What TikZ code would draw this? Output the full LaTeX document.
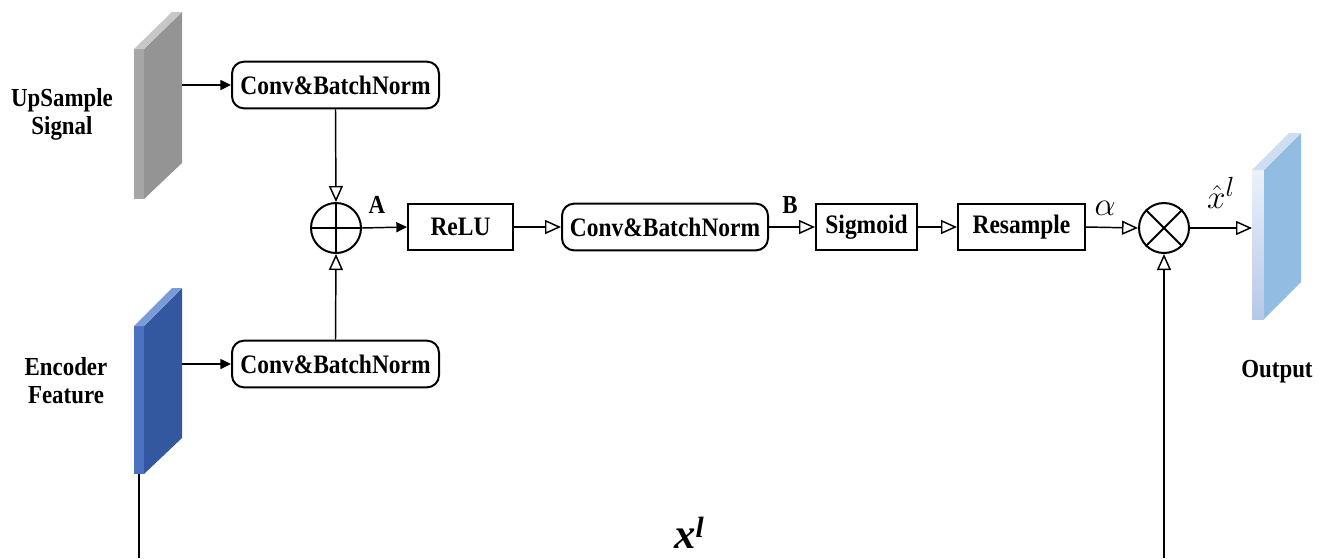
\documentclass[tikz,border=0pt]{standalone}
\usepackage{fontspec}
\setmainfont{Liberation Serif}
\newfontfamily\bxfont[FakeStretch=0.88]{Liberation Serif}
\usetikzlibrary{arrows.meta}
\begin{document}
\begin{tikzpicture}[x=0.75pt,y=-0.75pt,
  lbl/.style={font=\bxfont\bfseries\fontsize{19.5}{21}\selectfont,align=center,inner sep=0pt},
  box/.style={draw,line width=1.5pt,minimum height=35pt,inner sep=0pt,font=\bxfont\bfseries\fontsize{20}{20}\selectfont},
  rbox/.style={box,rounded corners=9pt},
  op/.style={draw,circle,line width=1.5pt,minimum size=37.5pt,inner sep=0pt},
  fa/.style={-{Triangle[length=8pt,width=7.5pt]},line width=1.1pt},
  oa/.style={-{Triangle[open,length=12pt,width=10.5pt,fill=white]},line width=1.1pt},
  pl/.style={line width=1.1pt}]
\useasboundingbox (0,0) rectangle (1327,558);
% slabs
\fill[black!35] (134,49) -- (144,49) -- (144,199) -- (134,199) -- cycle;
\fill[black!42] (144,49) -- (182,12) -- (182,163) -- (144,199) -- cycle;
\fill[black!22] (134,49) -- (172,12) -- (182,12) -- (144,49) -- cycle;
\fill[color={rgb,255:red,74;green,114;blue,192}] (134,326) -- (144,326) -- (144,474) -- (134,474) -- cycle;
\fill[color={rgb,255:red,52;green,88;blue,160}] (144,326) -- (182,288) -- (182,438) -- (144,474) -- cycle;
\fill[color={rgb,255:red,122;green,154;blue,216}] (134,326) -- (172,288) -- (182,288) -- (144,326) -- cycle;
\shade[top color={rgb,255:red,236;green,241;blue,250},bottom color={rgb,255:red,182;green,200;blue,232}] (1252,170) -- (1264,170) -- (1264,319) -- (1252,319) -- cycle;
\fill[color={rgb,255:red,146;green,188;blue,226}] (1264,170) -- (1301,133) -- (1301,282) -- (1264,319) -- cycle;
\fill[color={rgb,255:red,205;green,222;blue,242}] (1252,170) -- (1289,133) -- (1301,133) -- (1264,170) -- cycle;
\coordinate (upR) at (182,85);
\coordinate (encR) at (182,364);
\coordinate (encB) at (139,474);
\coordinate (bot1) at (139,558);
\coordinate (bot2) at (1164,558);
\coordinate (outL) at (1252,228);
% labels
\node[lbl] (ups) at (62,114) {UpSample\\Signal};
\node[lbl] (encl) at (66,381) {Encoder\\Feature};
\node[lbl] (outl) at (1277,372) {Output};
% boxes
\node[rbox,minimum width=155.25pt] (conv1) at (335.5,85) {Conv\&BatchNorm};
\node[rbox,minimum width=155.25pt] (conv2) at (335.5,364) {Conv\&BatchNorm};
\node[op] (plus) at (336,228) {};
\node[box,minimum width=78.75pt] (relu) at (460.5,227) {ReLU};
\node[rbox,minimum width=154.5pt] (convm) at (665,227) {Conv\&BatchNorm};
\node[box,minimum width=75.75pt] (sig) at (866.5,227) {Sigmoid};
\node[box,minimum width=95.25pt] (res) at (1021.5,227) {Resample};
\node[op] (times) at (1164,228) {};
\draw[line width=1.5pt] (plus.north) -- (plus.south) (plus.west) -- (plus.east);
\draw[line width=1.5pt] (times.north east) -- (times.south west) (times.north west) -- (times.south east);
% connectors
\draw[fa] (upR) -- (conv1.west);
\draw[fa] (encR) -- (conv2.west);
\draw[oa] (conv1.south) -- (plus.north);
\draw[oa] (conv2.north) -- (plus.south);
\draw[fa] (plus.east) -- (relu.west);
\draw[oa] (relu.east) -- (convm.west);
\draw[oa] (convm.east) -- (sig.west);
\draw[oa] (sig.east) -- (res.west);
\draw[oa] (res.east) -- (times.west);
\draw[oa] (times.east) -- (outL);
\draw[pl] (encB) -- (bot1);
\draw[oa] (bot2) -- (times.south);
% text labels
\node[lbl] (la) at (377,205) {A};
\node[lbl] (lb) at (790,205) {B};
\node[inner sep=0pt,font=\fontsize{32}{32}\selectfont] (lalpha) at (1105,208) {$\alpha$};
\node[inner sep=0pt,font=\fontsize{28}{28}\selectfont] (lxh) at (1221,193) {$\hat{x}^{l}$};
\node[inner sep=0pt,font=\bfseries\itshape\fontsize{32}{32}\selectfont] (lx) at (689,533) {x\raisebox{0.55ex}{\fontsize{22}{22}\selectfont l}};
\end{tikzpicture}
\end{document}
